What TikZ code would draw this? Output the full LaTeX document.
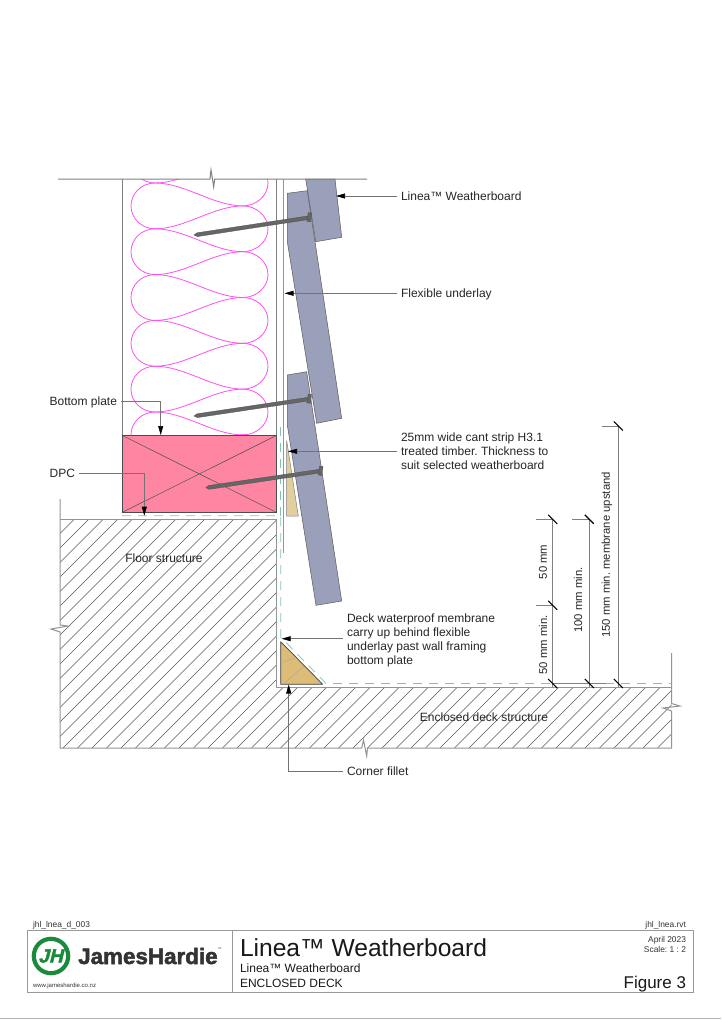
\documentclass[tikz,border=0pt]{standalone}
\usepackage{fontspec}
\setmainfont{Liberation Sans}
\newfontfamily\heavyfont[FakeBold=2.2]{Liberation Sans Bold}
\usetikzlibrary{arrows.meta}
\definecolor{boardc}{HTML}{9BA0BA}
\definecolor{plinkc}{HTML}{FF86A2}
\definecolor{insulc}{HTML}{FF50F0}
\definecolor{cantc}{HTML}{E2CFA0}
\definecolor{filletc}{HTML}{DDBC78}
\definecolor{membc}{HTML}{7CC8A8}
\definecolor{underc}{HTML}{55A5E8}
\definecolor{nailc}{HTML}{666666}
\definecolor{greenc}{HTML}{1C8A3C}
\tikzset{
  wall/.style={draw=black!50,line width=1pt},
  struct/.style={draw=black!42,line width=1pt},
  board/.style={fill=boardc,draw=black!65,line width=0.5pt,line join=round},
  nailbody/.style={fill=nailc,draw=black!70,line width=0.3pt,line join=round},
  nailhead/.style={fill=nailc,draw=black!70,line width=0.3pt},
  memb/.style={draw=membc,line width=0.7pt,dash pattern=on 9pt off 7pt},
  hatchline/.style={draw=black!65,line width=0.45pt},
  insul/.style={draw=insulc,line width=0.8pt},
  leader/.style={draw=black!55,line width=0.6pt,-{Triangle[length=9pt,width=5pt,color=black,fill=black]}},
  lab/.style={inner ysep=0pt,inner xsep=4pt,outer sep=0pt,anchor=west,font=\fontsize{12}{14}\selectfont,text=black!85,text height=8pt,text depth=0pt},
  blocklab/.style={inner ysep=0pt,inner xsep=4pt,outer sep=0pt,anchor=west,align=left,font=\fontsize{12}{14}\selectfont,text=black!85},
  free/.style={inner sep=0pt,outer sep=0pt,font=\fontsize{12}{14}\selectfont,text=black!85},
  dimline/.style={draw=black!50,line width=0.6pt},
  dimlab/.style={inner sep=0pt,rotate=90,font=\fontsize{11.3}{14}\selectfont,text=black!85},
  tick/.style={draw=black,line width=1.1pt},
  small/.style={inner sep=0pt,outer sep=0pt,font=\fontsize{8.4}{10}\selectfont,text=black!80},
  title/.style={inner sep=0pt,outer sep=0pt,text=black!90},
}
\begin{document}
\frenchspacing
\begin{tikzpicture}[x=1pt,y=-1pt]
\useasboundingbox[fill=white] (0,0) rectangle (721,1020);

% insulation
\begin{scope}
\clip (122,179) rectangle (277,436);
\foreach \k in {-1,...,6}{
  \pgfmathsetmacro\ya{183+45.8*\k}
  \pgfmathsetmacro\yb{\ya+45.8}
  \pgfmathsetmacro\ym{\ya+22.9}
  \pgfmathsetmacro\yc{\ya+10}
  \pgfmathsetmacro\yd{\ya+35.8}
  \draw[insul] (155,\ya) .. controls (142,\ya) and (131,\yc) .. (131,\ym) .. controls (131,\yd) and (142,\yb) .. (155,\yb);
  \draw[insul] (155,\ya) .. controls (185,\ya) and (213,\ym) .. (243,\ym);
  \draw[insul] (155,\yb) .. controls (185,\yb) and (213,\ym) .. (243,\ym);
  \pgfmathsetmacro\ra{\ya+22.9}
  \pgfmathsetmacro\rb{\ra+45.8}
  \pgfmathsetmacro\rm{\ra+22.9}
  \pgfmathsetmacro\rc{\ra+10}
  \pgfmathsetmacro\rd{\ra+35.8}
  \draw[insul] (243,\ra) .. controls (256,\ra) and (268,\rc) .. (268,\rm) .. controls (268,\rd) and (256,\rb) .. (243,\rb);
}
\end{scope}

% floor and deck hatch
\begin{scope}
\clip (60,519) -- (276.7,519) -- (276.7,687) -- (671.5,687) -- (671.5,748) -- (60,748) -- cycle;
\foreach \c in {0,...,70}{
  \pgfmathsetmacro\xa{-285+14.5*\c}
  \pgfmathsetmacro\xb{\xa+320}
  \draw[hatchline] (\xa,748) -- (\xb,428);
}
\end{scope}

% structure outline
\draw[struct] (60,499) -- (60,625) -- (68,626) -- (51,629) -- (60,632) -- (60,748) -- (361.7,748) -- (363.5,740) -- (366.7,756) -- (367.5,748) -- (671.5,748) -- (671.5,711) -- (663,708) -- (680,706) -- (671.5,703.5) -- (671.5,653);
\draw[struct] (60,519) -- (276.7,519) -- (276.7,687) -- (671.5,687);

% wall
\draw[wall] (58,179) -- (210,179) -- (211,170) -- (213.7,187) -- (214.7,179) -- (367,179);
\draw[wall] (122,179) -- (122,435);
\draw[wall] (276.7,179) -- (276.7,435);

% bottom plate
\draw[fill=plinkc,draw=black!70,line width=0.7pt] (122,435.3) rectangle (276.7,512.5);
\draw[black!70,line width=0.5pt] (122,435.3) -- (276.7,512.5) (122,512.5) -- (276.7,435.3);

% membranes
\draw[memb] (122,515.7) -- (280.7,515.7) -- (280.7,637) -- (326,683.5) -- (671,683.5);
\draw[memb] (280.7,427) -- (280.7,515.7);
\draw[underc,line width=0.7pt] (283.3,179) -- (283.3,553);

% cant strip
\draw[fill=cantc,draw=black!50,line width=0.5pt] (286.7,440.7) -- (298.3,516) -- (286.7,516) -- cycle;

% fillet
\draw[fill=filletc,draw=black!75,line width=0.7pt,line join=round] (280.7,641.7) -- (322.7,684.3) -- (280.7,684.3) -- cycle;
\draw[black!35,line width=0.4pt] (280.7,663) -- (296,657.5) (283,684.3) -- (304,666);

% weatherboards
\draw[board] (287.3,375) -- (306.7,371.7) -- (341.7,601) -- (316,605.3) -- (287.3,425) -- cycle;
\draw[board] (287.3,193.3) -- (307.3,190.7) -- (341.7,418.3) -- (316.7,423.3) -- (287.3,241.7) -- cycle;
\draw[board] (305.7,179) -- (335,179) -- (341.7,237.3) -- (315.7,241.7) -- cycle;

% nails
\draw[nailbody] (194,235) -- (197,232.8) -- (307.5,216) -- (308,219.6) -- (197.4,236.6) -- cycle;
\draw[nailhead,rotate around={-8.5:(309.3,217.3)}] (307.5,212.8) rectangle (311,221.8);
\draw[nailbody] (194,416) -- (197,413.8) -- (307.5,397.4) -- (308,401) -- (197.4,417.6) -- cycle;
\draw[nailhead,rotate around={-8.5:(309.3,398.7)}] (307.5,394.2) rectangle (311,403.2);
\draw[nailbody] (205.7,487.7) -- (208.7,485.5) -- (319,469.4) -- (319.5,473) -- (209.1,489.3) -- cycle;
\draw[nailhead,rotate around={-8.5:(320.7,470.7)}] (318.9,466.2) rectangle (322.4,475.2);

% labels and leaders
\coordinate (tipboard) at (336,196);
\coordinate (tipunder) at (284.5,293.3);
\coordinate (tipplate) at (160.7,435);
\coordinate (tipdpc) at (144.3,515.7);
\coordinate (tipcant) at (288,451.3);
\coordinate (tipdeck) at (281.7,638.7);
\coordinate (tipfillet) at (288.7,684.5);

\node[lab] (nboard) at (397,196) {Linea™ Weatherboard};
\node[lab] (nunder) at (397,293.3) {Flexible underlay};
\node[lab,anchor=east] (nplate) at (121,401) {Bottom plate};
\node[lab,anchor=east] (ndpc) at (79,473) {DPC};
\node[blocklab] (ncant) at (397,451) {25mm wide cant strip H3.1\\treated timber. Thickness to\\suit selected weatherboard};
\node[blocklab] (ndeck) at (343,640.5) {Deck waterproof membrane\\carry up behind flexible\\underlay past wall framing\\bottom plate};
\node[lab] (nfillet) at (343,771) {Corner fillet};
\node[free] (nfloor) at (164,558) {Floor structure};
\node[free] (ndeckst) at (484,717) {Enclosed deck structure};

\draw[leader] (nboard.west) -- (tipboard);
\draw[leader] (nunder.west) -- (tipunder);
\draw[leader] (nplate.east) -| (tipplate);
\draw[leader] (ndpc.east) -| (tipdpc);
\draw[leader] (ncant.west |- tipcant) -- (tipcant);
\draw[leader] (ndeck.west |- tipdeck) -- (tipdeck);
\draw[leader] (nfillet.west) -| (tipfillet);

% dimensions
\coordinate (da) at (552.7,519.3);
\coordinate (db) at (552.7,605.3);
\coordinate (dc) at (552.7,683.5);
\coordinate (ea) at (589.3,519.3);
\coordinate (ec) at (589.3,683.5);
\coordinate (fa) at (618.3,426);
\coordinate (fc) at (618.3,683.5);
\draw[dimline] (da) -- (552.7,687) (ea) -- (589.3,687) (fa) -- (618.3,687);
\draw[dimline] (536,519.3) -- (da) (536,605.3) -- (db) (572,519.3) -- (ea) (601.7,426) -- (fa);
\draw[dimline] (dc) -- (606,683.5);
\foreach \p in {da,db,dc,ea,ec,fa,fc}{
  \draw[tick] ([shift={(-4.5,-4.5)}]\p) -- ([shift={(4.5,4.5)}]\p);
}
\node[dimlab] (d1) at (543,562) {50 mm};
\node[dimlab] (d2) at (543,645) {50 mm min.};
\node[dimlab] (d3) at (578,600) {100 mm min.};
\node[dimlab] (d4) at (607,555) {150 mm min. membrane upstand};

% title block
\draw[draw=black!40,line width=0.7pt] (27,930.7) rectangle (693,992.3);
\draw[draw=black!40,line width=0.7pt] (232.3,930.7) -- (232.3,992.3);
\draw[draw=black!30,line width=0.6pt] (0,1018.3) -- (721,1018.3);
\node[small,anchor=base west] (t1) at (33,927) {jhl\_lnea\_d\_003};
\node[small,anchor=base east] (t2) at (686,927) {jhl\_lnea.rvt};
\node[small,anchor=base east] (t3) at (686,942) {April 2023};
\node[small,anchor=base east] (t4) at (686,952) {Scale: 1 : 2};
\node[title,anchor=base west,font=\fontsize{24.6}{28}\selectfont] (t5) at (240,956) {Linea™ Weatherboard};
\node[title,anchor=base west,font=\fontsize{12}{14}\selectfont] (t6) at (240,972) {Linea™ Weatherboard};
\node[title,anchor=base west,font=\fontsize{12}{14}\selectfont] (t7) at (240,987) {ENCLOSED DECK};
\node[title,anchor=base east,font=\fontsize{17}{20}\selectfont] (t8) at (686,988) {Figure 3};
\node[small,anchor=base west,font=\fontsize{6}{8}\selectfont] (t9) at (33,987.5) {www.jameshardie.co.nz};

% logo
\fill[greenc] (51,956) circle (19.3);
\fill[white] (51,956) circle (15);
\node[inner sep=0pt,text=greenc,font=\heavyfont\fontsize{19}{20}\selectfont] (jh) at (50.5,956) {\addfontfeature{FakeSlant=0.25}JH};
\node[inner sep=0pt,anchor=base west,text=black!80,font=\heavyfont\fontsize{22.4}{24}\selectfont] (jhword) at (78,964) {JamesHardie};
\node[inner sep=0pt,anchor=base west,text=black!70,font=\fontsize{4}{5}\selectfont] (jhtm) at (217.5,950) {™};
\end{tikzpicture}
\end{document}
